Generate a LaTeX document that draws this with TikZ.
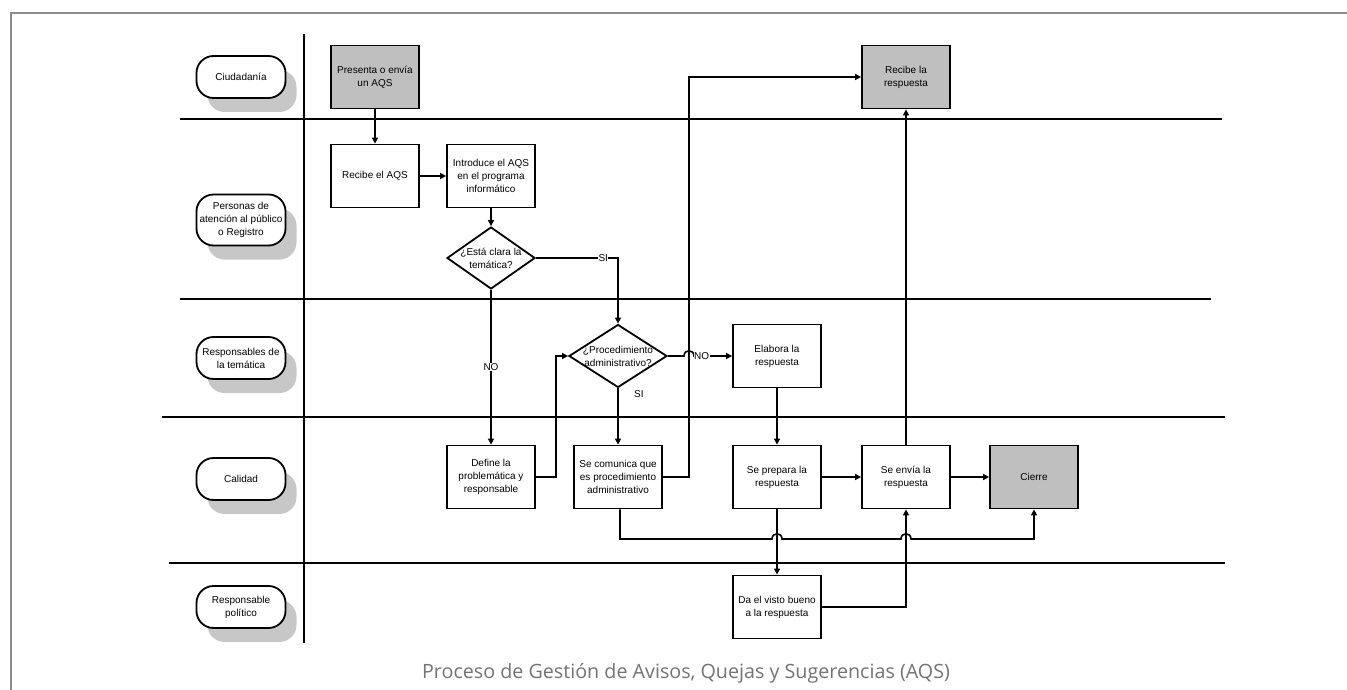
\documentclass[tikz,border=0pt]{standalone}
\usepackage{fontspec}
\setmainfont{Liberation Sans}
\newfontfamily\captionfont{Open Sans}
\usetikzlibrary{arrows.meta,shapes.geometric,shadows}

\begin{document}
\begin{tikzpicture}
    [x=1pt, y=-1pt, font=\fontsize{10}{13}\selectfont,
     box/.style={rectangle, draw, line width=1.8pt, minimum width=88pt, minimum height=63pt, align=center, inner sep=2pt, fill=white},
     endbox/.style={box, fill=black!25},
     decision/.style={diamond, draw, line width=1.8pt, minimum width=88pt, minimum height=62pt, inner sep=0pt, fill=white},
     lane/.style={rectangle, draw, rounded corners=17pt, line width=1.8pt, minimum width=89pt, minimum height=42pt, align=center, inner sep=0pt, fill=white, drop shadow={shadow xshift=11pt, shadow yshift=-14pt, fill=black!22, opacity=1}},
     laneline/.style={line width=2.2pt},
     flow/.style={line width=1.6pt, -{Triangle[length=6pt, width=6pt]}},
     lbl/.style={fill=white, inner sep=0.5pt}]
    \useasboundingbox (0,0) rectangle (1347,690);
    \draw[black!45, line width=1.2pt] (11,690) -- (11,13) -- (1347,13);

    \draw[laneline] (304,34) -- (304,643);
    \draw[laneline] (180,119) -- (1222,119);
    \draw[laneline] (180,299) -- (1211,299);
    \draw[laneline] (162,417) -- (1225,417);
    \draw[laneline] (169,563) -- (1225,563);

    \node[lane] (Ciud) at (241,77) {Ciudadanía};
    \node[lane, minimum height=51pt] (Pers) at (241,220) {Personas de\\atención al público\\o Registro};
    \node[lane] (RespTem) at (241,358) {Responsables de\\la temática};
    \node[lane] (Cal) at (241,479) {Calidad};
    \node[lane] (RespPol) at (241,607) {Responsable\\político};

    \node[endbox] (Presenta) at (375,77) {Presenta o envía\\un AQS};
    \node[box] (RecibeAQS) at (375,176) {Recibe el AQS};
    \node[box] (Introduce) at (491,176) {Introduce el AQS\\en el programa\\informático};
    \node[decision, label={[align=center]center:{¿Está clara la\\temática?}}] (Tematica) at (491,258) {};
    \node[decision, minimum width=98pt, minimum height=63pt, label={[align=center]center:{¿Procedimiento\\administrativo?}}] (ProcAdm) at (618,356) {};
    \node[box] (Elabora) at (777,356) {Elabora la\\respuesta};
    \node[box] (Define) at (491,477) {Define la\\problemática y\\responsable};
    \node[box] (SeComunica) at (618,477) {Se comunica que\\es procedimiento\\administrativo};
    \node[box] (SePrepara) at (777,477) {Se prepara la\\respuesta};
    \node[box] (SeEnvia) at (906,477) {Se envía la\\respuesta};
    \node[endbox] (Cierre) at (1034,477) {Cierre};
    \node[box] (VistoBueno) at (777,607) {Da el visto bueno\\a la respuesta};
    \node[endbox] (RecibeResp) at (906,77) {Recibe la\\respuesta};

    \coordinate (cruce) at (689,77);
    \coordinate (bus) at (620,539);

    \draw[flow] (Presenta) -- (RecibeAQS);
    \draw[flow] (RecibeAQS) -- (Introduce);
    \draw[flow] (Introduce) -- (Tematica);
    \draw[flow] (Tematica.east) -- node[lbl, pos=0.82] {SI} (Tematica.east -| ProcAdm.north) -- (ProcAdm.north);
    \draw[flow] (Tematica) -- node[lbl] {NO} (Define);
    \draw[flow] (Define.east) -- ++(20,0) |- (ProcAdm.west);
    \draw[flow] (ProcAdm) -- node[pos=0.1, right, xshift=12pt] {SI} (SeComunica);
    \draw[flow] (ProcAdm.east) -- ([xshift=-5pt]ProcAdm.east -| cruce) .. controls +(0,-7) and +(0,-7) .. ([xshift=5pt]ProcAdm.east -| cruce) -- node[lbl, pos=0.2] {NO} (Elabora.west);
    \draw[flow] (Elabora) -- (SePrepara);
    \draw[flow] (SePrepara) -- (SeEnvia);
    \draw[flow] (SeEnvia) -- (Cierre);
    \draw[flow] (SeEnvia) -- (RecibeResp);
    \draw[flow] (SeComunica.east) -| (cruce) -- (RecibeResp.west);
    \draw[flow] (SePrepara) -- (VistoBueno);
    \draw[flow] (VistoBueno.east) -| (SeEnvia.south);
    \draw[flow] (SeComunica.south -| bus) -- (bus) -- ([xshift=-5pt]bus -| SePrepara) .. controls +(0,-7) and +(0,-7) .. ([xshift=5pt]bus -| SePrepara) -- ([xshift=-5pt]bus -| SeEnvia) .. controls +(0,-7) and +(0,-7) .. ([xshift=5pt]bus -| SeEnvia) -- (bus -| Cierre) -- (Cierre.south);

    \node[font=\captionfont\fontsize{19.7}{22}\selectfont, text=black!55] (caption) at (686,673) {Proceso de Gestión de Avisos, Quejas y Sugerencias (AQS)};
\end{tikzpicture}
\end{document}
